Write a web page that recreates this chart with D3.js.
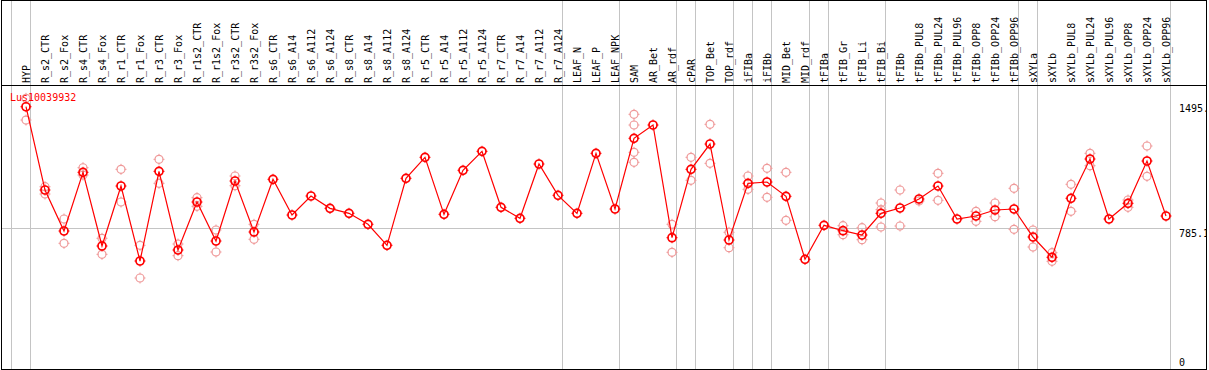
<!DOCTYPE html>
<html><head><meta charset="utf-8">
<script src="https://cdn.jsdelivr.net/npm/d3@7"></script>
<style>
html,body{margin:0;padding:0;background:#fff;}
svg{display:block;}
text{font-family:"DejaVu Sans Mono","Liberation Mono",monospace;}
</style></head>
<body>
<svg id="chart" width="1209" height="370"></svg>
<script>
const geneId = "Lus10039932";
const categories = ["HYP","R_s2_CTR","R_s2_Fox","R_s4_CTR","R_s4_Fox","R_r1_CTR","R_r1_Fox","R_r3_CTR","R_r3_Fox","R_r1s2_CTR","R_r1s2_Fox","R_r3s2_CTR","R_r3s2_Fox","R_s6_CTR","R_s6_A14","R_s6_A112","R_s6_A124","R_s8_CTR","R_s8_A14","R_s8_A112","R_s8_A124","R_r5_CTR","R_r5_A14","R_r5_A112","R_r5_A124","R_r7_CTR","R_r7_A14","R_r7_A112","R_r7_A124","LEAF_N","LEAF_P","LEAF_NPK","SAM","AR_Bet","AR_rdf","cPAR","TOP_Bet","TOP_rdf","iFIBa","iFIBb","MID_Bet","MID_rdf","tFIBa","tFIB_Gr","tFIB_Li","tFIB_Bi","tFIBb","tFIBb_PUL8","tFIBb_PUL24","tFIBb_PUL96","tFIBb_OPP8","tFIBb_OPP24","tFIBb_OPP96","sXYLa","sXYLb","sXYLb_PUL8","sXYLb_PUL24","sXYLb_PUL96","sXYLb_OPP8","sXYLb_OPP24","sXYLb_OPP96"];
const means = [1474.1,1000.6,767.5,1101.2,682.2,1023.3,596.9,1106.9,659.5,932.3,710.6,1051.7,761.8,1061.4,858.4,966.5,896.5,868.1,805.6,686.2,1067.1,1186.5,862.4,1112.6,1220.6,902.2,839.7,1148.4,970.4,868.1,1209.2,892.5,1294.5,1370.1,729.4,1118.2,1262.1,716.3,1038.6,1046.0,964.7,606.6,799.9,769.2,744.7,868.1,898.2,949.4,1023.3,835.7,852.8,886.9,892.5,733.4,618.0,953.4,1176.8,835.7,925.0,1165.4,852.8];
const replicates = [
 [1521.9,1398.5],[1019.3,977.8],[835.7,697.5],[1127.3,1085.8],[726.0,635.0],[1118.2,932.3],[686.2,500.3],[1175.1,1038.6],[693.6,627.1],[956.8,907.9],[773.2,648.1],[1080.2,1025.0],[805.6,720.3],
 [],[],[],[],[],[],[],[],[],[],[],[],[],[],[],[],
 [],[],[],
 [1430.9,1370.1,1214.9,1158.0],[],[805.6,646.4],[1186.5,1055.7],[1374.1,1152.3],[760.1,672.5],[1080.2,1004.5],[1123.9,959.1],[1101.2,828.3],[],
 [],[797.6,746.4],[786.2,718.0],[926.7,888.6,790.2],
 [1000.6,795.9],[938.0],[1095.5,942.0],[],[879.5,822.6],[926.7,848.8],[1010.2,777.1],
 [773.2,676.5],[644.1,595.2],[1033.0,879.5],[1209.2,1138.7],[],[943.7,902.2],[1250.7,1078.5],[]
];
const groupStarts = ["HYP","R_s2_CTR","LEAF_N","SAM","cPAR","TOP_Bet","iFIBa","iFIBb","MID_Bet","tFIBa","tFIB_Gr","tFIBb","sXYLa","sXYLb"];
const yTicks = [0, 785.1, 1495.3];
const gridValue = 785.1;

const svg = d3.select("#chart");
const x = d3.scalePoint().domain(categories).range([26, 1166]);
const step = x.step();
const y = d3.scaleLinear().domain([0, 1495.3]).range([366, 103]);

svg.append("defs").append("clipPath").attr("id","clip")
  .append("rect").attr("x",0).attr("y",0).attr("width",1206).attr("height",369);

const root = svg.append("g").attr("clip-path","url(#clip)");

// group separators
const sepX = groupStarts.map(c => x(c) - step + 4.5);
sepX.push(x(categories[categories.length-1]) + 4.5);
root.selectAll("line.sep").data(sepX).join("line").attr("class","sep")
  .attr("x1",d=>Math.round(d-0.5)+0.5).attr("x2",d=>Math.round(d-0.5)+0.5)
  .attr("y1",0).attr("y2",369)
  .attr("stroke","#c4c4c4").attr("stroke-width",1).attr("shape-rendering","crispEdges");

// horizontal grid line
root.append("line")
  .attr("x1",1).attr("x2",Math.round(sepX[sepX.length-1]-0.5)+0.5)
  .attr("y1",Math.round(y(gridValue))+0.5).attr("y2",Math.round(y(gridValue))+0.5)
  .attr("stroke","#c4c4c4").attr("stroke-width",1).attr("shape-rendering","crispEdges");

// frame
svg.append("rect").attr("x",1.5).attr("y",0.5).attr("width",1205).attr("height",368.5)
  .attr("fill","none").attr("stroke","#000").attr("stroke-width",1).attr("shape-rendering","crispEdges");
svg.append("line").attr("x1",1).attr("x2",1207).attr("y1",85.5).attr("y2",85.5)
  .attr("stroke","#000").attr("stroke-width",1).attr("shape-rendering","crispEdges");

// category labels
root.selectAll("text.cat").data(categories).join("text").attr("class","cat")
  .attr("transform",d=>`translate(${x(d)+4},83) rotate(-90)`)
  .attr("font-size",10).attr("fill","#000").text(d=>d);

// marker helper
function marker(g, cx, cy, color, sw) {
  const r = 4;
  g.append("circle").attr("cx",cx).attr("cy",cy).attr("r",r)
    .attr("fill","none").attr("stroke",color).attr("stroke-width",sw);
  const t = [[0,-1],[0,1],[-1,0],[1,0]];
  t.forEach(([dx,dy])=>{
    g.append("line").attr("x1",cx+dx*(r-0.5)).attr("y1",cy+dy*(r-0.5))
      .attr("x2",cx+dx*(r+1.5)).attr("y2",cy+dy*(r+1.5))
      .attr("stroke",color).attr("stroke-width",1);
  });
}

// replicate markers
const repG = root.append("g");
categories.forEach((c,i)=>{
  (replicates[i]||[]).forEach(v=>marker(repG, x(c), y(v), "#ef9a9a", 1.2));
});

// mean line
root.append("path").datum(means)
  .attr("d", d3.line().x((d,i)=>x(categories[i])).y(d=>y(d)))
  .attr("fill","none").attr("stroke","#ff0000").attr("stroke-width",1.2);

// mean markers
const meanG = root.append("g");
categories.forEach((c,i)=> marker(meanG, x(c), y(means[i]), "#ff0000", 1.7));

// title
root.append("text").attr("x",10).attr("y",101).attr("font-size",10)
  .attr("fill","#ff0000").text(geneId);

// right axis labels
root.selectAll("text.tick").data(yTicks).join("text").attr("class","tick")
  .attr("x",1179).attr("y",d=>Math.min(y(d)+9, 366))
  .attr("font-size",10).attr("fill","#000").text(d=>d===0?"0":d.toFixed(1));
</script>
</body></html>
